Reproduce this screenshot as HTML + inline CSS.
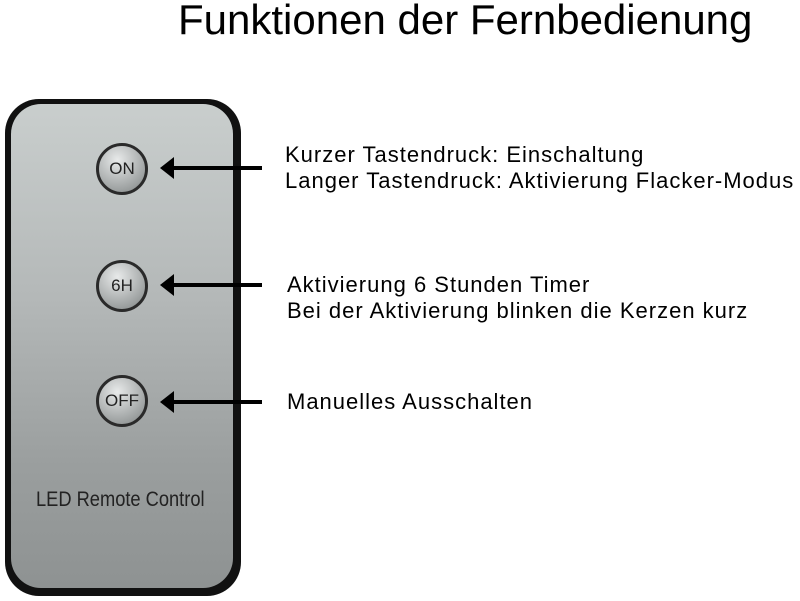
<!DOCTYPE html>
<html><head><meta charset="utf-8"><style>
body{margin:0;width:800px;height:601px;background:#fff;position:relative;overflow:hidden;font-family:"Liberation Sans",sans-serif}
.t{position:absolute;white-space:nowrap;color:#000}
.btn{position:absolute;width:46px;height:46px;border-radius:50%;border:3px solid #2a2a2a;background:radial-gradient(circle at 40% 30%,#e8eaea,#9ea2a2 70%,#7d8181);box-sizing:content-box;font-size:17px;color:#222;text-align:center;line-height:46px}
</style></head><body>
<div class="t" style="left:178px;top:-4px;font-size:42px">Funktionen der Fernbedienung</div>
<div style="position:absolute;left:5px;top:99px;width:236px;height:497px;border-radius:34px;background:#111"></div>
<div style="position:absolute;left:11px;top:104px;width:222px;height:484px;border-radius:30px;background:linear-gradient(180deg,#c9cecd 0%,#b4b8b8 40%,#9a9e9e 75%,#8e9292 100%)"></div>
<div class="btn" style="left:96px;top:143px">ON</div>
<div class="btn" style="left:96px;top:260px">6H</div>
<div class="btn" style="left:96px;top:375px">OFF</div>
<div class="t" style="left:36px;top:488px;font-size:21px;color:#222;transform:scaleX(0.87);transform-origin:left">LED Remote Control</div>
<svg style="position:absolute;left:0;top:0" width="800" height="601">
<g stroke="#000" stroke-width="4"><line x1="172" y1="168" x2="262" y2="168"/><line x1="172" y1="285" x2="262" y2="285"/><line x1="172" y1="402" x2="262" y2="402"/></g>
<g fill="#000"><polygon points="160,168 174,157 174,179"/><polygon points="160,285 174,274 174,296"/><polygon points="160,402 174,391 174,413"/></g>
</svg>
<div class="t" style="left:285px;top:142px;font-size:22px;line-height:26px;letter-spacing:1px">Kurzer Tastendruck: Einschaltung<br>Langer Tastendruck: Aktivierung Flacker-Modus</div>
<div class="t" style="left:287px;top:272px;font-size:22px;line-height:26px;letter-spacing:1px">Aktivierung 6 Stunden Timer<br>Bei der Aktivierung blinken die Kerzen kurz</div>
<div class="t" style="left:287px;top:389px;font-size:22px;line-height:26px;letter-spacing:1px">Manuelles Ausschalten</div>
</body></html>
